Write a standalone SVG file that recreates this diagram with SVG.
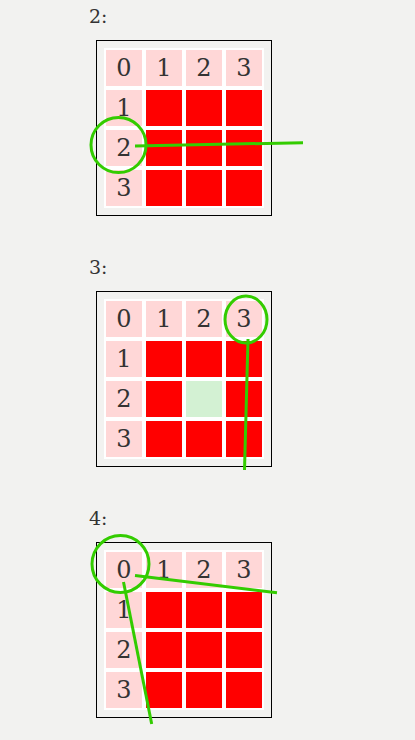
<svg xmlns="http://www.w3.org/2000/svg" width="415" height="740" viewBox="0 0 415 740">
<style>
.bg{fill:#f2f2f0}
.box{fill:none;stroke:#000;stroke-width:1}
.board{fill:#fff}
.h{fill:#ffd7d7}
.r{fill:#ff0000}
.g{fill:#d3f1d3}
.d{font-family:"DejaVu Serif","Liberation Serif",serif;font-size:24px;fill:#333;text-anchor:middle}
.lbl{font-family:"DejaVu Serif","Liberation Serif",serif;font-size:19px;fill:#333}
.mark{fill:none;stroke:#33cc00;stroke-width:3}
.conn{stroke:#33cc00;stroke-width:3;stroke-linecap:butt}
</style>
<defs>
<g id="grid">
<rect class="box" x="96.5" y="40.5" width="175" height="175"/>
<rect class="board" x="104" y="48" width="160" height="160"/>
<rect class="h" x="106" y="50" width="36" height="36"/>
<rect class="h" x="146" y="50" width="36" height="36"/>
<rect class="h" x="186" y="50" width="36" height="36"/>
<rect class="h" x="226" y="50" width="36" height="36"/>
<rect class="h" x="106" y="90" width="36" height="36"/>
<rect class="h" x="106" y="130" width="36" height="36"/>
<rect class="h" x="106" y="170" width="36" height="36"/>
<rect class="r" x="146" y="90" width="36" height="36"/>
<rect class="r" x="186" y="90" width="36" height="36"/>
<rect class="r" x="226" y="90" width="36" height="36"/>
<rect class="r" x="146" y="130" width="36" height="36"/>
<rect class="r" x="186" y="130" width="36" height="36"/>
<rect class="r" x="226" y="130" width="36" height="36"/>
<rect class="r" x="146" y="170" width="36" height="36"/>
<rect class="r" x="186" y="170" width="36" height="36"/>
<rect class="r" x="226" y="170" width="36" height="36"/>
<text class="d" x="124" y="76">0</text>
<text class="d" x="164" y="76">1</text>
<text class="d" x="204" y="76">2</text>
<text class="d" x="244" y="76">3</text>
<text class="d" x="124" y="116">1</text>
<text class="d" x="124" y="156">2</text>
<text class="d" x="124" y="196">3</text>
</g>
</defs>
<rect class="bg" x="0" y="0" width="415" height="740"/>
<g id="panel2">
<text class="lbl" x="89" y="23">2:</text>
<use href="#grid"/>
<circle class="mark" cx="118.5" cy="145" r="27.5"/>
</g>
<g id="panel3" transform="translate(0,251)">
<text class="lbl" x="89" y="23">3:</text>
<use href="#grid"/>
<rect class="g" x="186" y="130" width="36" height="36"/>
<ellipse class="mark" cx="246" cy="68.5" rx="21" ry="23.5"/>
</g>
<g id="panel4" transform="translate(0,502)">
<text class="lbl" x="89" y="23">4:</text>
<use href="#grid"/>
<circle class="mark" cx="120.5" cy="62" r="28.5"/>
</g>
<g id="connectors">
<line class="conn" x1="135" y1="146" x2="303" y2="142.7"/>
<line class="conn" x1="248" y1="339" x2="244.5" y2="470"/>
<line class="conn" x1="135" y1="575.5" x2="277" y2="592.7"/>
<line class="conn" x1="123.5" y1="582" x2="151.7" y2="724"/>
</g>
</svg>
